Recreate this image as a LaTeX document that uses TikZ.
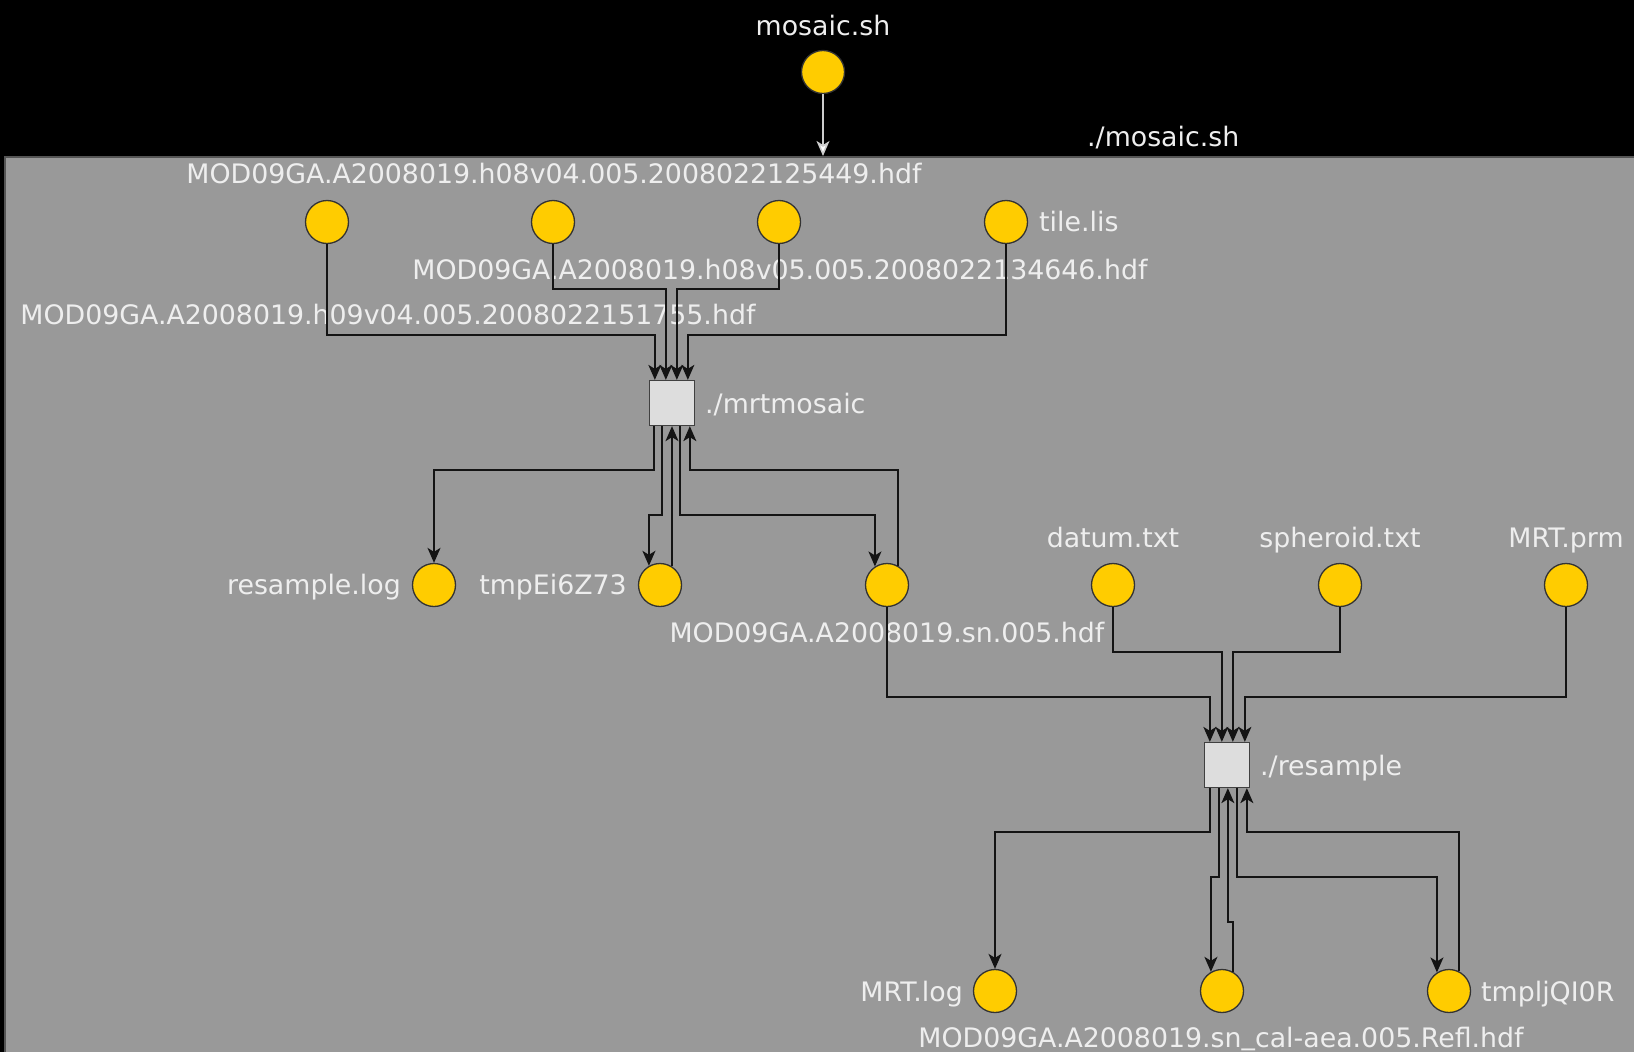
\documentclass[tikz,border=0pt]{standalone}
\usepackage{fontspec}
\setmainfont{DejaVu Sans}
\usetikzlibrary{arrows.meta}

\definecolor{clusterfill}{HTML}{999999}
\definecolor{clusteredge}{HTML}{555555}
\definecolor{fileyellow}{HTML}{FFCC00}
\definecolor{procfill}{HTML}{DDDDDD}
\definecolor{edgeink}{HTML}{141414}
\definecolor{labelink}{HTML}{EEEEEE}

\tikzset{
  file/.style={circle, fill=fileyellow, draw=black!80, line width=1.3pt,
    minimum size=43pt, inner sep=0pt},
  proc/.style={rectangle, fill=procfill, draw=black!75, line width=1.3pt,
    minimum size=45pt, inner sep=0pt},
  lbl/.style={text=labelink, font=\fontsize{26.8}{32}\selectfont, inner sep=0pt},
  flow/.style={draw=edgeink, line width=1.6pt,
    -{Stealth[length=15pt,width=13pt,inset=4pt]}},
  launch/.style={draw=black!20, line width=1.6pt,
    -{Stealth[length=15pt,width=13pt,inset=4pt,fill=white]}},
}
% underscore set a little higher so it stays on the page
\newcommand{\lowbar}{\raisebox{3pt}{\_}}

\begin{document}
\begin{tikzpicture}[x=1pt,y=-1pt]
  % canvas
  \useasboundingbox (0,0) rectangle (1634,1052);
  \clip (0,0) rectangle (1634,1052);
  \fill[black] (0,0) rectangle (1634,1052);

  % process group of the shell script
  \filldraw[fill=clusterfill, draw=clusteredge, line width=2pt]
    (5,157) rectangle (1660,1080);
  \coordinate (clustertop) at (823,156);

  % labels
  \node[lbl, anchor=base] (lmosaic) at (823,35) {mosaic.sh};
  \node[lbl, anchor=base west] (lcluster) at (1087,146) {./mosaic.sh};
  \node[lbl, anchor=base] (lh08v04) at (554,183) {MOD09GA.A2008019.h08v04.005.2008022125449.hdf};
  \node[lbl, anchor=base] (lh08v05) at (780,279) {MOD09GA.A2008019.h08v05.005.2008022134646.hdf};
  \node[lbl, anchor=base] (lh09v04) at (388,324) {MOD09GA.A2008019.h09v04.005.2008022151755.hdf};
  \node[lbl, anchor=base west] (ltile) at (1039,231) {tile.lis};
  \node[lbl, anchor=base west] (lmrt) at (705,413) {./mrtmosaic};
  \node[lbl, anchor=base east] (lrlog) at (401,594) {resample.log};
  \node[lbl, anchor=base east] (ltmpA) at (627,594) {tmpEi6Z73};
  \node[lbl, anchor=base] (lsn) at (887,642) {MOD09GA.A2008019.sn.005.hdf};
  \node[lbl, anchor=base] (ldatum) at (1113,547) {datum.txt};
  \node[lbl, anchor=base] (lspher) at (1340,547) {spheroid.txt};
  \node[lbl, anchor=base] (lprm) at (1566,547) {MRT.prm};
  \node[lbl, anchor=base west] (lresamp) at (1260,775) {./resample};
  \node[lbl, anchor=base east] (lmrtlog) at (963,1001) {MRT.log};
  \node[lbl, anchor=base west] (ltmpB) at (1481,1001) {tmpljQI0R};
  \node[lbl, anchor=base] (lrefl) at (1221,1047) {MOD09GA.A2008019.sn\lowbar cal-aea.005.Refl.hdf};

  % files and processes
  \node[file] (mosaic) at (823,72) {};
  \node[file] (h09v04) at (327,222) {};
  \node[file] (h08v04) at (553,222) {};
  \node[file] (h08v05) at (779,222) {};
  \node[file] (tilelis) at (1006,222) {};
  \node[proc] (mrt) at (672,403) {};
  \node[file] (rlog) at (434,585) {};
  \node[file] (tmpA) at (660,585) {};
  \node[file] (sn) at (887,585) {};
  \node[file] (datum) at (1113,585) {};
  \node[file] (spher) at (1340,585) {};
  \node[file] (prm) at (1566,585) {};
  \node[proc] (resamp) at (1227,765) {};
  \node[file] (mrtlog) at (995,991) {};
  \node[file] (refl) at (1222,991) {};
  \node[file] (tmpB) at (1449,991) {};

  % script launch
  \draw[launch] (mosaic) -- (clustertop);

  % inputs of mrtmosaic
  \draw[flow] (h09v04.south) -- ++(0,91) -| ([xshift=6pt]mrt.north west);
  \draw[flow] (h08v04.south) -- ++(0,45) -| ([xshift=17pt]mrt.north west);
  \draw[flow] (h08v05.south) -- ++(0,45) -| ([xshift=28pt]mrt.north west);
  \draw[flow] (tilelis.south) -- ++(0,91) -| ([xshift=39pt]mrt.north west);

  % outputs of mrtmosaic
  \draw[flow] ([xshift=5pt]mrt.south west) -- ++(0,44) -| (rlog);
  \draw[flow] ([xshift=13pt]mrt.south west) -- ++(0,89) -| (tmpA.120);
  \draw[flow] (tmpA.57 -| mrt.south) -- (mrt.south);
  \draw[flow] ([xshift=31pt]mrt.south west) -- ++(0,89) -| (sn.123);
  \draw[flow] (sn.60) -- ++(0,-96) -| ([xshift=41pt]mrt.south west);

  % inputs of resample
  \draw[flow] (sn.south) -- ++(0,90) -| ([xshift=6pt]resamp.north west);
  \draw[flow] (datum.south) -- ++(0,45) -| ([xshift=18pt]resamp.north west);
  \draw[flow] (spher.south) -- ++(0,45) -| ([xshift=29pt]resamp.north west);
  \draw[flow] (prm.south) -- ++(0,90) -| ([xshift=41pt]resamp.north west);

  % outputs of resample
  \draw[flow] ([xshift=6pt]resamp.south west) -- ++(0,44) -| (mrtlog);
  \draw[flow] ([xshift=15pt]resamp.south west) -- ++(0,89) -| (refl.120);
  \draw[flow] (refl.60) -- ++(0,-50) -| ([xshift=24pt]resamp.south west);
  \draw[flow] ([xshift=33pt]resamp.south west) -- ++(0,89) -| (tmpB.123);
  \draw[flow] (tmpB.63) -- ++(0,-139) -| ([xshift=43pt]resamp.south west);
\end{tikzpicture}
\end{document}
